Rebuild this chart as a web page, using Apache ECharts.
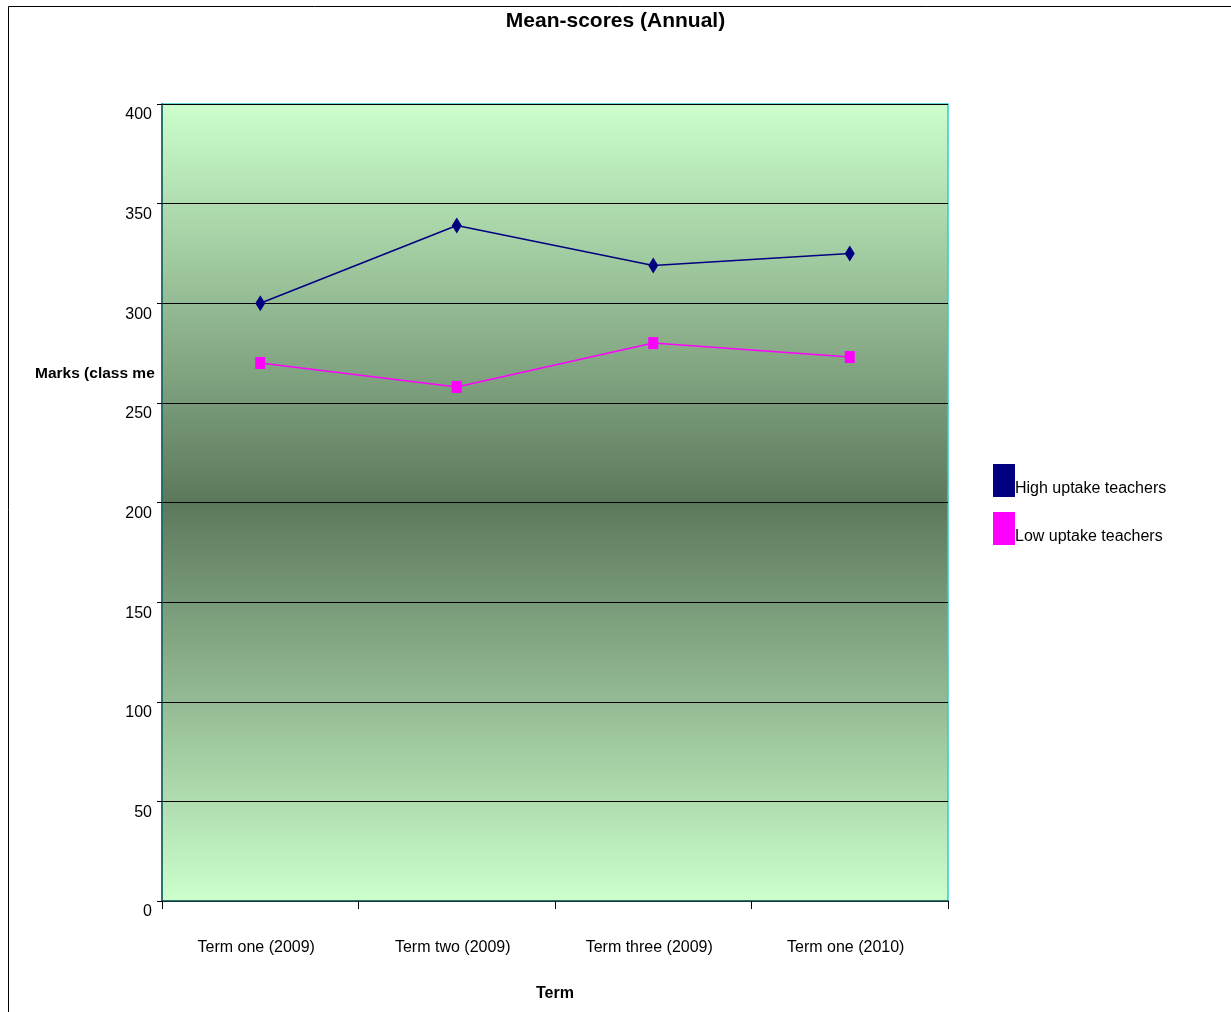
<!DOCTYPE html>
<html>
<head>
<meta charset="utf-8">
<style>
  html, body { margin: 0; padding: 0; background: #ffffff; }
  #chart { width: 1231px; height: 1012px; }
</style>
<script src="https://cdn.jsdelivr.net/npm/echarts@6/dist/echarts.min.js"></script>
</head>
<body>
<div id="chart"></div>
<script>
const categories = ['Term one (2009)', 'Term two (2009)', 'Term three (2009)', 'Term one (2010)'];
const highUptake = [300, 339, 319, 325];
const lowUptake = [270, 258, 280, 273];
const yTicks = { min: 0, max: 400, interval: 50 };

const FONT = '"Liberation Sans", Arial, sans-serif';

const chart = echarts.init(document.getElementById('chart'), null, { renderer: 'canvas' });
chart.setOption({
  animation: false,
  backgroundColor: '#ffffff',
  title: {
    text: 'Mean-scores (Annual)',
    left: 'center',
    top: 6,
    textStyle: { fontFamily: FONT, fontSize: 21, fontWeight: 'bold', color: '#000' }
  },
  graphic: [
    {
      type: 'rect', z: -20, silent: true,
      shape: { x: 8.5, y: 6.5, width: 1300, height: 1100 },
      style: { fill: 'none', stroke: '#000', lineWidth: 1 }
    },
    {
      type: 'text', z: -10, left: 35, top: 366,
      style: {
        text: 'Marks (class mean)', font: 'bold 15.5px ' + FONT, fill: '#000',
        width: 126, overflow: 'truncate', ellipsis: ''
      }
    }
  ],
  legend: {
    orient: 'vertical',
    left: 993,
    top: 464,
    padding: 0,
    itemWidth: 22,
    itemHeight: 33,
    itemGap: 15,
    icon: 'rect',
    formatter: function (name) { return '\n' + name; },
    textStyle: { fontFamily: FONT, fontSize: 16, lineHeight: 16, color: '#000', padding: [0, 0, 0, -5] },
    data: ['High uptake teachers', 'Low uptake teachers']
  },
  grid: {
    left: 162, right: 283, top: 104, bottom: 111,
    show: true,
    borderColor: '#33CCCC',
    borderWidth: 1.5,
    backgroundColor: {
      type: 'linear', x: 0, y: 0, x2: 0, y2: 1,
      colorStops: [
        { offset: 0, color: '#CCFFCC' },
        { offset: 0.5, color: '#5C785C' },
        { offset: 1, color: '#CCFFCC' }
      ]
    }
  },
  xAxis: {
    type: 'category',
    data: categories,
    boundaryGap: true,
    name: 'Term',
    nameLocation: 'middle',
    nameGap: 85,
    nameTextStyle: { fontFamily: FONT, fontSize: 16, fontWeight: 'bold', color: '#000' },
    axisLine: { show: true, lineStyle: { color: '#1F4F4F', width: 1.5 } },
    axisTick: { show: true, length: 8, inside: false, alignWithLabel: false, lineStyle: { color: '#000' } },
    axisLabel: { margin: 39, fontFamily: FONT, fontSize: 16, color: '#000', padding: [0, 8, 0, 0] },
    splitLine: { show: false }
  },
  yAxis: {
    type: 'value',
    min: yTicks.min, max: yTicks.max, interval: yTicks.interval,
    axisLine: { show: true, lineStyle: { color: '#1F4F4F', width: 1.5 } },
    axisTick: { show: true, length: 5, lineStyle: { color: '#000' } },
    axisLabel: { margin: 10, fontFamily: FONT, fontSize: 16, color: '#000', verticalAlign: 'top', padding: [3, 0, 0, 0] },
    splitLine: { show: true, lineStyle: { color: '#000', width: 1 } }
  },
  series: [
    {
      name: 'High uptake teachers',
      type: 'line',
      data: highUptake,
      symbol: 'diamond',
      symbolSize: [10, 16],
      itemStyle: { color: '#000080' },
      lineStyle: { color: '#000080', width: 1.5 }
    },
    {
      name: 'Low uptake teachers',
      type: 'line',
      data: lowUptake,
      symbol: 'rect',
      symbolSize: [10, 12],
      itemStyle: { color: '#FF00FF' },
      lineStyle: { color: '#FF00FF', width: 1.5 }
    }
  ]
});
</script>
</body>
</html>
